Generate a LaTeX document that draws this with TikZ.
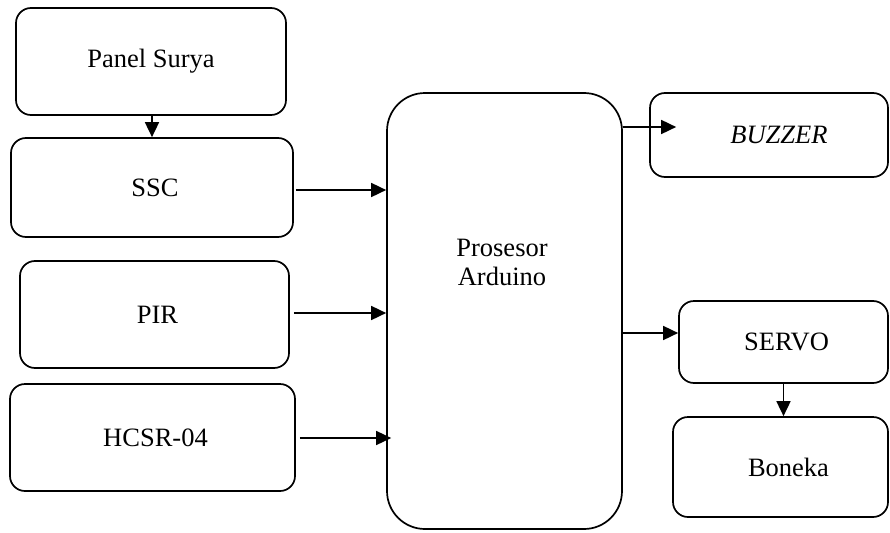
\documentclass[tikz,border=0pt]{standalone}
\usepackage{fontspec}
\setmainfont{Liberation Serif}
\usetikzlibrary{arrows.meta}
\begin{document}
\begin{tikzpicture}[x=1pt,y=-1pt,
  box/.style={draw, line width=1.7pt, rounded corners=15pt, inner sep=0pt, anchor=center,
    font=\fontsize{26.5}{29}\selectfont},
  arr/.style={line width=1.7pt, -{Triangle[length=15pt,width=14pt]}},
  lbl/.style={font=\fontsize{26.5}{29}\selectfont, align=center, inner sep=0pt}]
\useasboundingbox (0,0) rectangle (890,532);
\node[box, minimum width=270pt, minimum height=107pt] (panel) at (151,61.5) {Panel Surya};
\node[box, minimum width=282pt, minimum height=99pt] (ssc) at (152,187.5) {\hspace{6pt}SSC};
\node[box, minimum width=269pt, minimum height=107pt] (pir) at (154.5,314.5) {\hspace{6pt}PIR};
\node[box, minimum width=285pt, minimum height=107pt] (hcsr) at (152.5,437.5) {\hspace{6pt}HCSR-04};
\node[box, rounded corners=38pt, minimum width=235pt, minimum height=436pt] (ard) at (504.5,311) {};
\node[lbl] (ardtxt) at (502,262) {Prosesor\\Arduino};
\node[box, minimum width=238pt, minimum height=84pt] (buzz) at (769,135) {\hspace{20pt}\itshape BUZZER};
\node[box, minimum width=209pt, minimum height=82pt] (servo) at (783.5,342) {\hspace{6pt}SERVO};
\node[box, minimum width=215pt, minimum height=100pt] (boneka) at (780.5,467) {\hspace{16pt}Boneka};
\draw[arr] ([xshift=1pt]panel.south) -- ([xshift=1pt]ssc.north -| panel.south);
\draw[arr] ([shift={(2pt,-2.5pt)}]ssc.east) -- ([yshift=-2.5pt]ard.west |- ssc.east);
\draw[arr] ([shift={(4pt,1.5pt)}]pir.east) -- ([yshift=1.5pt]ard.west |- pir.east);
\draw[arr] ([shift={(4pt,-0.5pt)}]hcsr.east) -- ([shift={(5pt,-0.5pt)}]ard.west |- hcsr.east);
\draw[arr] ([yshift=8pt]ard.east |- buzz.west) -- ([shift={(27pt,8pt)}]buzz.west);
\draw[arr] ([yshift=9pt]ard.east |- servo.west) -- ([yshift=9pt]servo.west);
\draw[arr] (servo.south) -- (boneka.north -| servo.south);
\end{tikzpicture}
\end{document}
